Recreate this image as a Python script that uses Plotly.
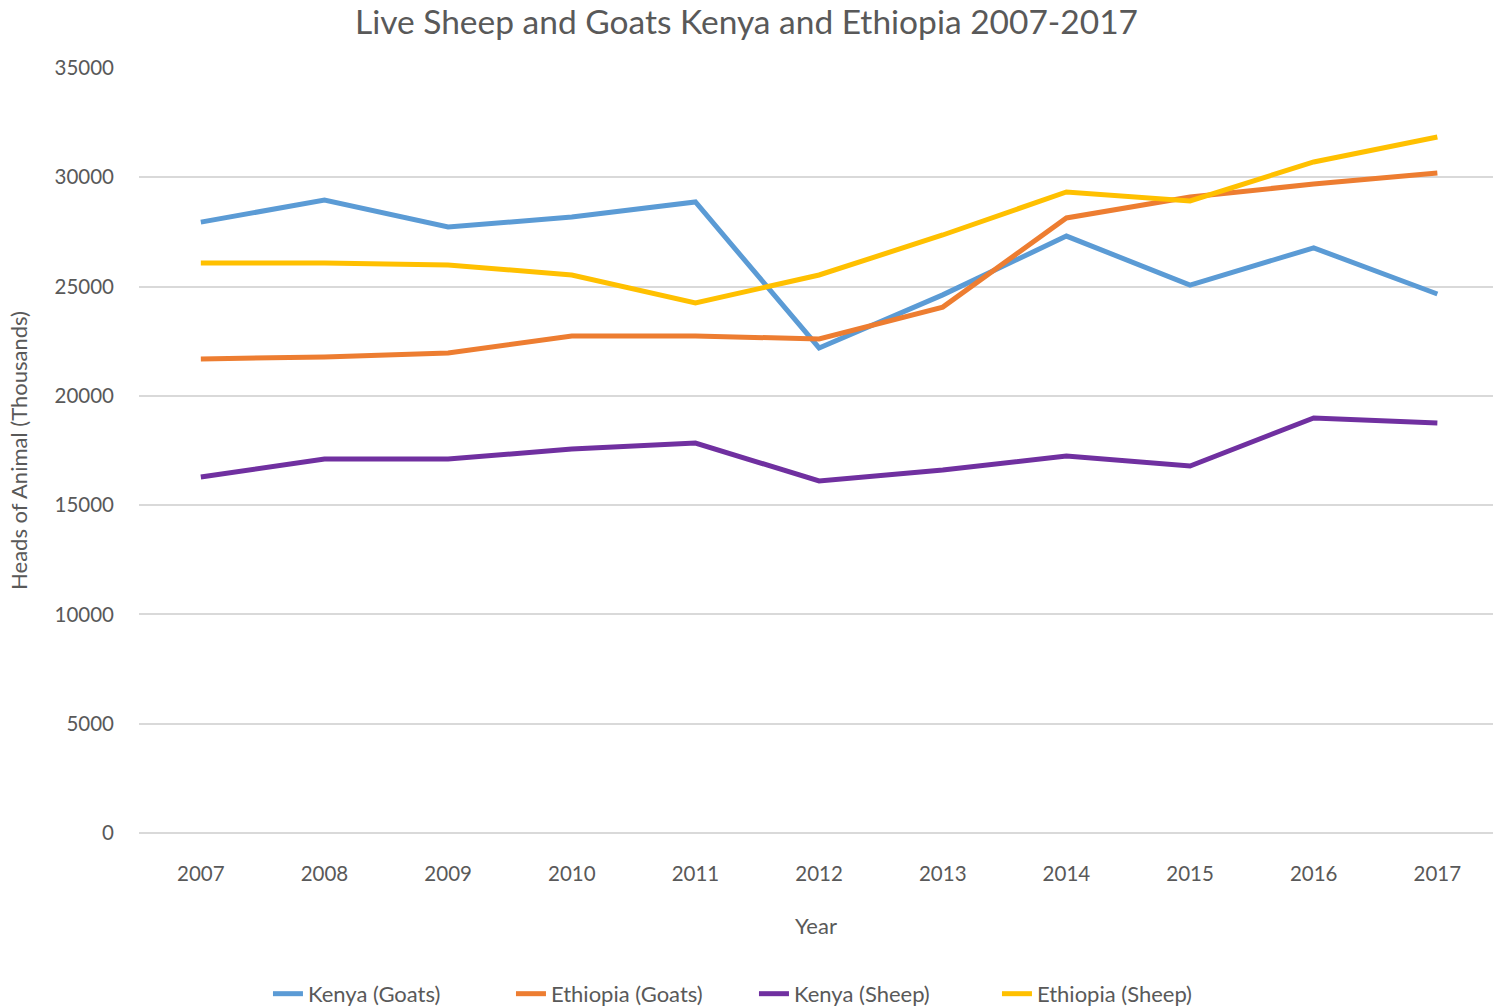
import plotly.graph_objects as go

years = ["2007", "2008", "2009", "2010", "2011", "2012", "2013", "2014", "2015", "2016", "2017"]
kenya_goats = [27950, 28960, 27730, 28180, 28870, 22190, 24620, 27310, 25070, 26770, 24660]
ethiopia_goats = [21690, 21780, 21960, 22740, 22740, 22600, 24060, 28140, 29100, 29690, 30200]
kenya_sheep = [16290, 17110, 17110, 17570, 17840, 16110, 16610, 17250, 16790, 18990, 18760]
ethiopia_sheep = [26080, 26080, 25990, 25530, 24250, 25530, 27360, 29330, 28920, 30700, 31840]

series = [
    ("Kenya (Goats)", kenya_goats, "#5B9BD5"),
    ("Ethiopia (Goats)", ethiopia_goats, "#ED7D31"),
    ("Kenya (Sheep)", kenya_sheep, "#7030A0"),
    ("Ethiopia (Sheep)", ethiopia_sheep, "#FFC000"),
]

FONT = "Lato, 'Open Sans', sans-serif"
TXT = "#595959"

fig = go.Figure()
for name, vals, col in series:
    fig.add_trace(go.Scatter(x=years, y=vals, name=name, mode="lines",
                             line=dict(color=col, width=5)))

fig.update_layout(
    width=1493, height=1008,
    paper_bgcolor="white", plot_bgcolor="white",
    margin=dict(l=139, r=0, t=68, b=175),
    title=dict(text="Live Sheep and Goats Kenya and Ethiopia 2007-2017",
               x=0.5, xref="container", xanchor="center", y=0.978, yanchor="middle",
               font=dict(family=FONT, size=33.5, color=TXT)),
    font=dict(family=FONT, color=TXT),
    legend=dict(orientation="h", x=0.505, xanchor="center", xref="container",
                y=0.014, yanchor="middle", yref="container",
                font=dict(family=FONT, size=22, color=TXT),
                entrywidth=198, entrywidthmode="pixels", tracegroupgap=0),
    showlegend=True,
)
fig.update_xaxes(type="category", range=[-0.5, 10.45], showgrid=False,
                 showline=False, ticks="", tickfont=dict(size=20.5, color=TXT),
                 ticklabelstandoff=26,
                 title=dict(text="Year", font=dict(size=22, color=TXT), standoff=35))
fig.update_yaxes(range=[0, 35000], dtick=5000, showgrid=True, gridcolor="#D9D9D9",
                 gridwidth=1.5, zeroline=True, zerolinecolor="#D9D9D9", zerolinewidth=1.5,
                 showline=False, ticks="", tickfont=dict(size=20.5, color=TXT),
                 tickformat="d", ticklabelstandoff=24,
                 title=dict(text="Heads of Animal (Thousands)", font=dict(size=22, color=TXT), standoff=20))

fig.write_html("out.html", config={"displayModeBar": False},
               post_script="document.body.style.margin='0';document.body.style.overflow='hidden';")
